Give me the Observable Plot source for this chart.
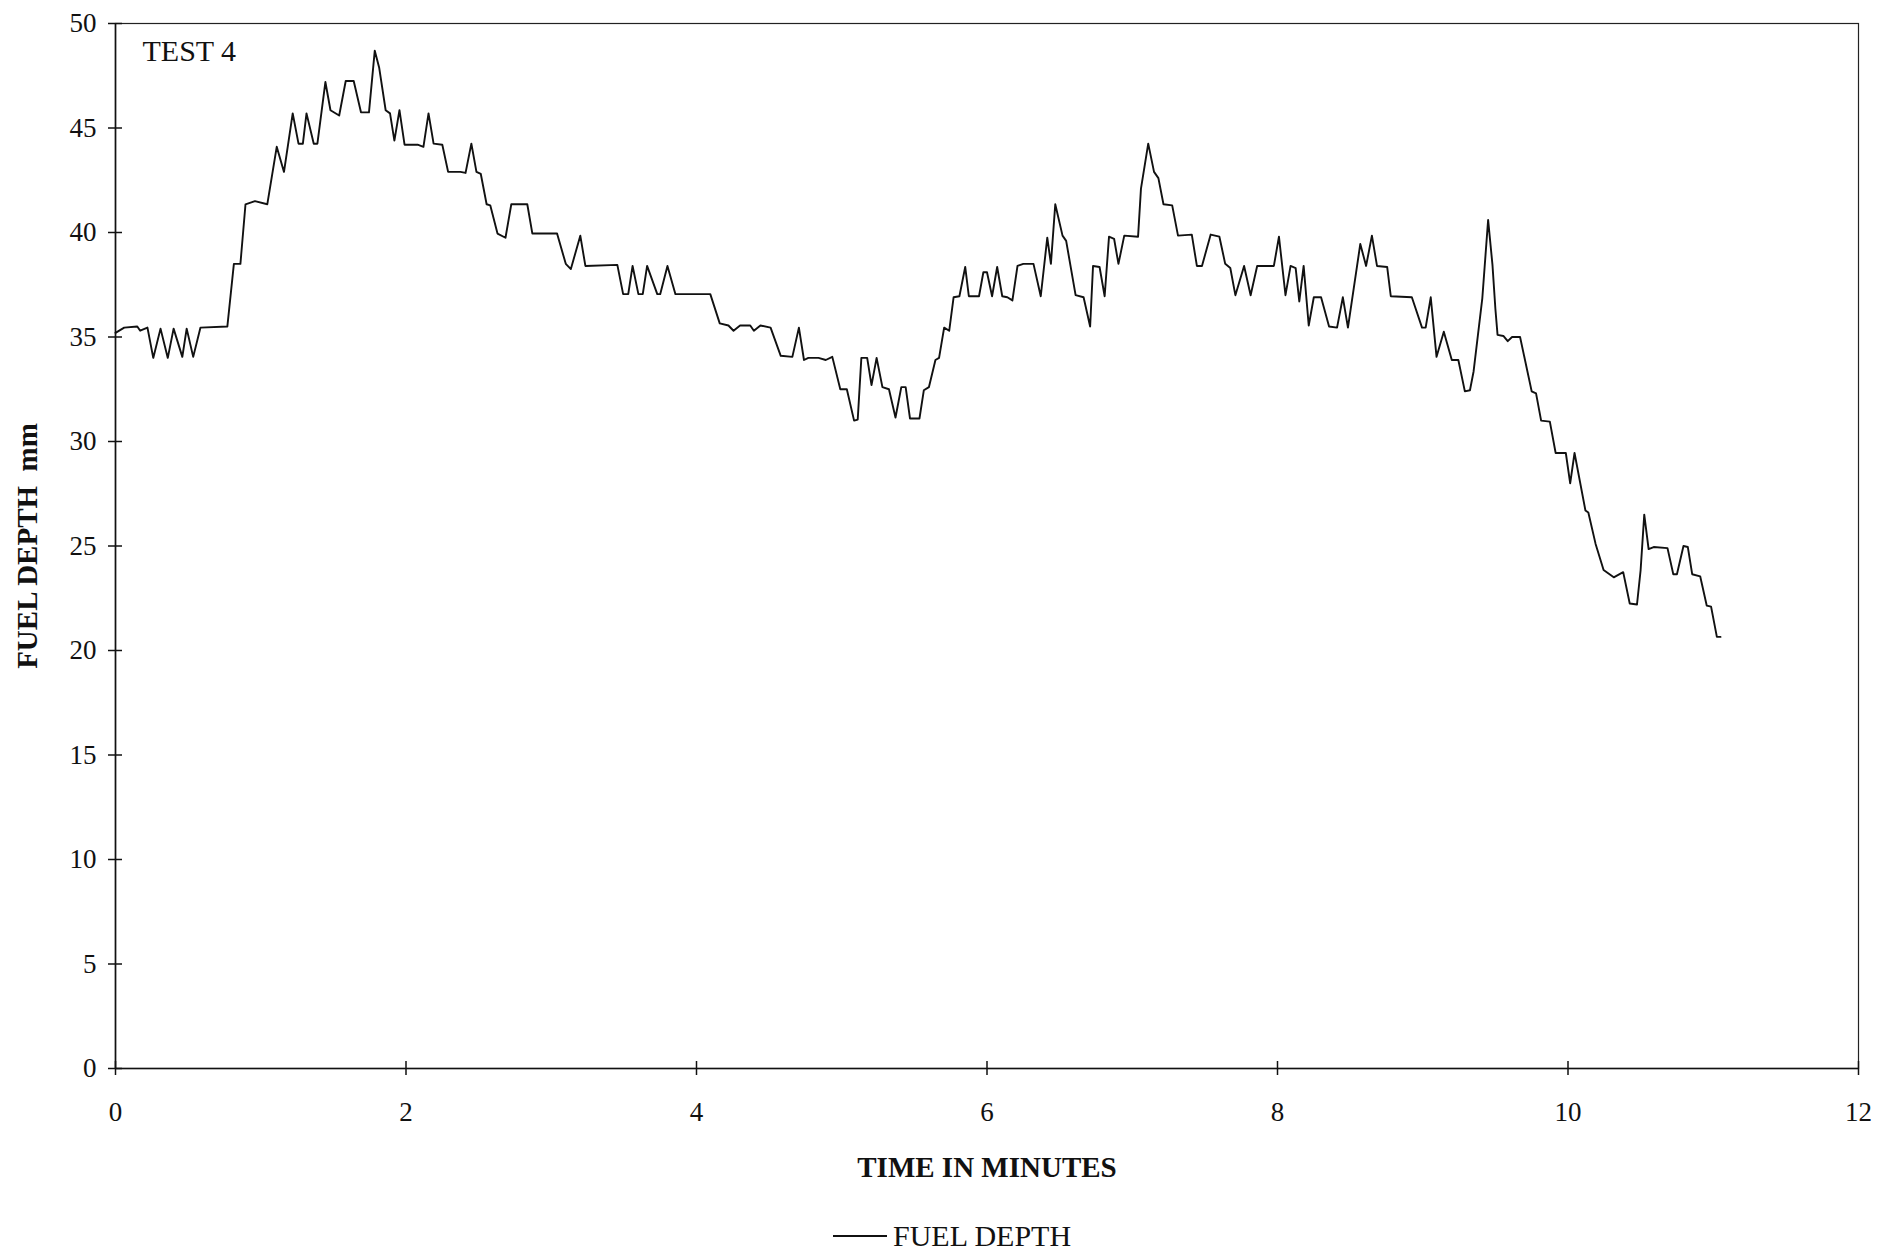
<!DOCTYPE html>
<html>
<head>
<meta charset="utf-8">
<script src="https://cdn.jsdelivr.net/npm/d3@7"></script>
<script src="https://cdn.jsdelivr.net/npm/@observablehq/plot@0.6"></script>
<style>
  html, body { margin: 0; padding: 0; background: #fff; }
  #chart svg { display: block; }
  #legend { height: 63px; font-family: "Liberation Serif", "Times New Roman", serif; font-size: 30px; color: #111; }
  #legend .item { position: relative; left: 833px; top: 20px; display: inline-flex; align-items: center; }
  #legend .swatch { display: inline-block; width: 54px; border-top: 2px solid #111; margin-right: 6px; }
</style>
</head>
<body>
<div id="chart"></div>
<div id="legend"><span class="item"><span class="swatch"></span>FUEL DEPTH</span></div>
<script>
const seriesName = "FUEL DEPTH";
const chartNote = "TEST 4";
const xLabel = "TIME IN MINUTES";
const yLabel = "FUEL DEPTH  mm";
const xTicks = [0, 2, 4, 6, 8, 10, 12];
const yTicks = [0, 5, 10, 15, 20, 25, 30, 35, 40, 45, 50];

const timeMin = [
  0.00, 0.06, 0.15, 0.17, 0.22, 0.26, 0.31, 0.36, 0.40, 0.46, 0.49, 0.535, 0.585, 0.77, 0.815, 0.86,
  0.895, 0.96, 1.045, 1.11, 1.16, 1.22, 1.26, 1.29, 1.315, 1.365, 1.39, 1.445, 1.48, 1.54, 1.585, 1.64,
  1.69, 1.745, 1.785, 1.815, 1.86, 1.89, 1.92, 1.955, 1.99, 2.08, 2.12, 2.155, 2.19, 2.25, 2.29, 2.375,
  2.41, 2.45, 2.485, 2.515, 2.555, 2.58, 2.63, 2.685, 2.725, 2.835, 2.87, 3.04, 3.10, 3.135, 3.20, 3.235,
  3.455, 3.495, 3.53, 3.56, 3.60, 3.63, 3.66, 3.73, 3.75, 3.80, 3.855, 4.095, 4.16, 4.22, 4.255, 4.30,
  4.37, 4.395, 4.44, 4.51, 4.58, 4.66, 4.705, 4.74, 4.77, 4.84, 4.89, 4.935, 4.99, 5.035, 5.085, 5.11,
  5.135, 5.175, 5.205, 5.24, 5.28, 5.325, 5.37, 5.41, 5.44, 5.47, 5.535, 5.565, 5.60, 5.645, 5.67, 5.705,
  5.74, 5.77, 5.81, 5.85, 5.875, 5.945, 5.975, 6.00, 6.035, 6.07, 6.105, 6.14, 6.175, 6.21, 6.25, 6.32,
  6.37, 6.415, 6.44, 6.47, 6.52, 6.545, 6.61, 6.665, 6.71, 6.73, 6.775, 6.81, 6.84, 6.875, 6.905, 6.945,
  7.04, 7.06, 7.11, 7.15, 7.18, 7.215, 7.275, 7.315, 7.41, 7.445, 7.48, 7.54, 7.60, 7.64, 7.675, 7.71,
  7.77, 7.815, 7.86, 7.975, 8.01, 8.055, 8.09, 8.125, 8.15, 8.18, 8.215, 8.25, 8.30, 8.355, 8.41, 8.45,
  8.485, 8.57, 8.61, 8.65, 8.685, 8.755, 8.78, 8.925, 8.995, 9.02, 9.055, 9.095, 9.145, 9.20, 9.245, 9.29,
  9.325, 9.35, 9.41, 9.45, 9.48, 9.50, 9.515, 9.555, 9.585, 9.615, 9.67, 9.75, 9.78, 9.815, 9.875, 9.915,
  9.985, 10.015, 10.045, 10.12, 10.14, 10.19, 10.245, 10.315, 10.38, 10.425, 10.475, 10.50, 10.525, 10.555, 10.59, 10.685,
  10.725, 10.75, 10.795, 10.825, 10.855, 10.91, 10.955, 10.985, 11.025, 11.05
];

const fuelDepth = [
  35.2, 35.45, 35.5, 35.3, 35.45, 34.0, 35.4, 34.0, 35.4, 34.05, 35.4, 34.05, 35.45, 35.5, 38.5, 38.5,
  41.35, 41.5, 41.35, 44.1, 42.9, 45.7, 44.25, 44.25, 45.7, 44.25, 44.25, 47.2, 45.85, 45.6, 47.25, 47.25,
  45.75, 45.75, 48.7, 47.9, 45.85, 45.7, 44.4, 45.85, 44.2, 44.2, 44.1, 45.7, 44.25, 44.2, 42.9, 42.9,
  42.85, 44.25, 42.9, 42.8, 41.35, 41.3, 39.95, 39.75, 41.35, 41.35, 39.95, 39.95, 38.5, 38.25, 39.85, 38.4,
  38.45, 37.05, 37.05, 38.4, 37.05, 37.05, 38.4, 37.05, 37.05, 38.4, 37.05, 37.05, 35.65, 35.55, 35.3, 35.55,
  35.55, 35.3, 35.55, 35.45, 34.1, 34.05, 35.45, 33.9, 34.0, 34.0, 33.9, 34.05, 32.5, 32.5, 31.0, 31.05,
  34.0, 34.0, 32.7, 34.0, 32.6, 32.5, 31.15, 32.6, 32.6, 31.1, 31.1, 32.45, 32.6, 33.9, 34.0, 35.45,
  35.3, 36.9, 36.95, 38.35, 36.95, 36.95, 38.1, 38.1, 36.95, 38.35, 36.95, 36.9, 36.75, 38.4, 38.5, 38.5,
  36.95, 39.75, 38.5, 41.35, 39.85, 39.6, 37.0, 36.9, 35.5, 38.4, 38.35, 36.95, 39.8, 39.7, 38.5, 39.85,
  39.8, 42.1, 44.25, 42.9, 42.6, 41.35, 41.3, 39.85, 39.9, 38.4, 38.4, 39.9, 39.8, 38.5, 38.3, 37.0,
  38.4, 37.0, 38.4, 38.4, 39.8, 37.0, 38.4, 38.3, 36.7, 38.4, 35.55, 36.9, 36.9, 35.5, 35.45, 36.9,
  35.45, 39.45, 38.4, 39.85, 38.4, 38.35, 36.95, 36.9, 35.45, 35.45, 36.9, 34.05, 35.25, 33.9, 33.9, 32.4,
  32.45, 33.35, 36.85, 40.6, 38.45, 36.35, 35.1, 35.05, 34.8, 35.0, 35.0, 32.4, 32.3, 31.0, 30.95, 29.45,
  29.45, 28.0, 29.45, 26.7, 26.6, 25.1, 23.85, 23.5, 23.75, 22.25, 22.2, 23.85, 26.5, 24.85, 24.95, 24.9,
  23.65, 23.65, 25.0, 24.95, 23.65, 23.55, 22.15, 22.1, 20.65, 20.65
];

const data = timeMin.map((t, i) => ({time: t, depth: fuelDepth[i], series: seriesName}));

const font = '"Liberation Serif", "Times New Roman", serif';

const chart = Plot.plot({
  width: 1894,
  height: 1190,
  marginLeft: 115,
  marginRight: 36,
  marginTop: 23,
  marginBottom: 122,
  style: {fontFamily: font, fontSize: "27px", color: "#111", background: "#fff"},
  x: {domain: [0, 12]},
  y: {domain: [0, 50]},
  marks: [
    Plot.frame({stroke: "#222", strokeWidth: 1.2}),
    Plot.axisX({ticks: xTicks, tickSize: 7, tickPadding: 26, tickFormat: d => String(d), label: null, strokeWidth: 1.5}),
    Plot.axisX({ticks: xTicks, tickSize: -7, tickFormat: () => "", label: null, strokeWidth: 1.5}),
    Plot.axisY({ticks: yTicks, tickSize: 7, tickPadding: 12, tickFormat: d => String(d), label: null, strokeWidth: 1.5}),
    Plot.axisY({ticks: yTicks, tickSize: -7, tickFormat: () => "", label: null, strokeWidth: 1.5}),
    Plot.ruleY([0], {stroke: "#111", strokeWidth: 1.6}),
    Plot.ruleX([0], {stroke: "#111", strokeWidth: 1.6}),
    Plot.line(data, {x: "time", y: "depth", stroke: "#111", strokeWidth: 1.9, strokeLinejoin: "round"}),
    Plot.text([chartNote], {frameAnchor: "top-left", dx: 27, dy: 28, textAnchor: "start", lineAnchor: "middle", fontSize: 30, fill: "#111"}),
    Plot.text([xLabel], {frameAnchor: "bottom", dy: 99, textAnchor: "middle", lineAnchor: "middle", fontSize: 29, fontWeight: "bold", fill: "#111"}),
    Plot.text([yLabel], {frameAnchor: "left", dx: -88, rotate: -90, textAnchor: "middle", lineAnchor: "middle", fontSize: 29, fontWeight: "bold", fill: "#111"})
  ]
});

document.getElementById("chart").append(chart);
</script>
</body>
</html>
